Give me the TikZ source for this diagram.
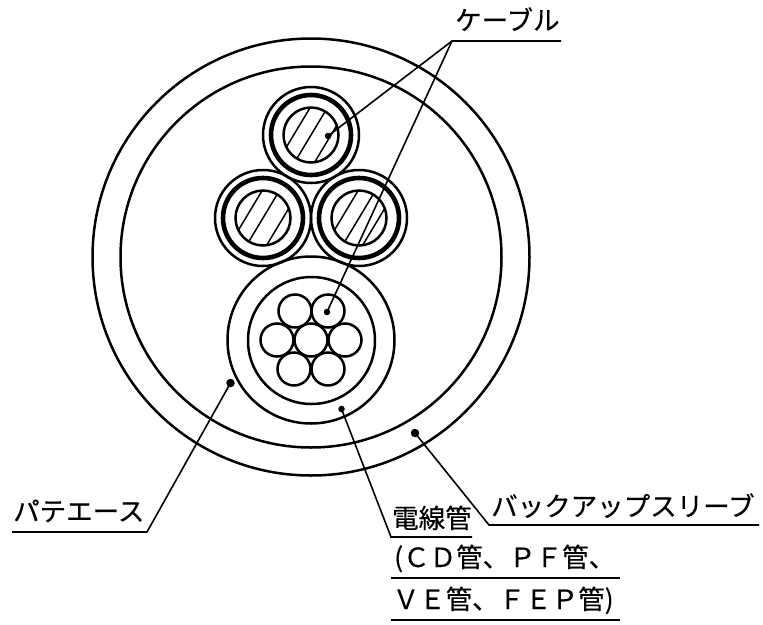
\documentclass[tikz,border=0pt]{standalone}
\usepackage{fontspec}
\setmainfont{Noto Sans CJK JP}[RawFeature={embolden=0.35}]
\tikzset{
  ring/.style={draw=black,line width=2.5pt},
  thickring/.style={draw=black,line width=4.6pt},
  hatch/.style={draw=black,line width=1.5pt},
  leader/.style={draw=black,line width=1.6pt},
  leaddot/.style={circle,fill=black,inner sep=0pt,minimum size=#1},
  lab/.style={inner sep=0pt,font=\fontsize{26.5}{30}\selectfont,anchor=base west},
  cable/.pic={
    \draw[ring] (0,0) circle (48);
    \draw[thickring] (0,0) circle (40);
    \draw[ring] (0,0) circle (27.5);
    \begin{scope}
      \clip (0,0) circle (27.5);
      \draw[hatch] (12.7,-50) -- (-47.3,50) (30,-50) -- (-30,50) (50,-50) -- (-10,50);
    \end{scope}
  }
}
\begin{document}
\begin{tikzpicture}[x=1pt,y=-1pt]
\useasboundingbox (0,0) rectangle (763,624);
% sleeve
\draw[ring] (311,257) circle (218.5);
\draw[ring] (311,257) circle (190.5);
% cables
\pic at (311,135) {cable};
\pic at (263,218) {cable};
\pic at (359,218) {cable};
% conduit
\draw[ring] (311,340) circle (83.5);
\draw[ring] (311.5,340.5) circle (63.5);
\foreach \x/\y in {311/340,295/311,328/311,277/340,345/340,294/369,328/369}
  \draw[ring] (\x,\y) circle (16.5);
% leader end points
\node[leaddot=6.5pt] (dcable) at (328,136) {};
\node[leaddot=6.5pt] (dwire) at (327,312) {};
\node[leaddot=8.5pt] (dpatty) at (230.5,383) {};
\node[leaddot=6.5pt] (dconduit) at (341.5,409) {};
\node[leaddot=8.5pt] (dbackup) at (415,433) {};
\coordinate (kj) at (452,41);
\coordinate (ke) at (561,41);
\coordinate (pj) at (147,532);
\coordinate (pe) at (12,532);
\coordinate (cj) at (391,537);
\coordinate (ce) at (472,537);
\coordinate (bj) at (489,525);
\coordinate (be) at (759,525);
\coordinate (l1s) at (391,578);
\coordinate (l1e) at (620,578);
\coordinate (l2s) at (391,620);
\coordinate (l2e) at (620,620);
\draw[leader] (dcable.center) -- (kj) -- (ke);
\draw[leader] (dwire.center) -- (kj);
\draw[leader] (dpatty.center) -- (pj) -- (pe);
\draw[leader] (dconduit.center) -- (cj) -- (ce);
\draw[leader] (dbackup.center) -- (bj) -- (be);
\draw[leader] (l1s) -- (l1e);
\draw[leader] (l2s) -- (l2e);
% labels
\node[lab] (tcable) at (455,30) {ケーブル};
\node[lab] (tpatty) at (13,521) {パテエース};
\node[lab] (tconduit) at (392,528) {電線管};
\node[lab] (tbackup) at (491,516) {バックアップスリーブ};
\node[lab] (tl1) at (394,567) {(ＣＤ管、ＰＦ管、};
\node[lab] (tl2) at (392.5,609) {ＶＥ管、ＦＥＰ管)};
\end{tikzpicture}
\end{document}
